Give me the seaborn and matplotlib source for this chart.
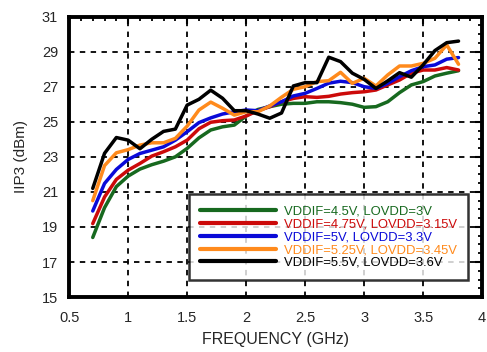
import numpy as np
import pandas as pd
import matplotlib
matplotlib.use("Agg")
import matplotlib.pyplot as plt
from matplotlib.ticker import MultipleLocator, FixedLocator
import seaborn as sns

# frequency points (GHz)
freq = [0.7, 0.8, 0.9, 1.0, 1.1, 1.2, 1.3, 1.4, 1.5, 1.6, 1.7, 1.8, 1.9, 2.0, 2.1, 2.2,
        2.3, 2.4, 2.5, 2.6, 2.7, 2.8, 2.9, 3.0, 3.1, 3.2, 3.3, 3.4, 3.5, 3.6, 3.7, 3.8]

iip3_45 = [18.4, 20.1, 21.3, 21.9, 22.3, 22.55, 22.75, 23.0, 23.48, 24.08, 24.53, 24.71,
           24.81, 25.33, 25.7, 25.86, 26.0, 26.05, 26.05, 26.14, 26.14, 26.09, 26.0, 25.82,
           25.86, 26.14, 26.66, 27.1, 27.29, 27.61, 27.77, 27.91]
iip3_475 = [19.19, 20.71, 21.71, 22.24, 22.62, 23.04, 23.29, 23.57, 23.95, 24.6, 24.97,
            25.06, 25.1, 25.33, 25.63, 25.86, 26.14, 26.33, 26.43, 26.39, 26.45, 26.58,
            26.66, 26.71, 26.81, 27.1, 27.38, 27.77, 27.95, 27.95, 28.09, 27.95]
iip3_5 = [19.91, 21.48, 22.28, 22.85, 23.19, 23.38, 23.57, 23.95, 24.43, 24.95, 25.22,
          25.44, 25.57, 25.67, 25.63, 25.9, 26.14, 26.47, 26.62, 26.9, 27.2, 27.31,
          27.23, 27.0, 26.9, 27.19, 27.57, 27.91, 28.14, 28.24, 28.57, 28.66]
iip3_525 = [20.5, 22.5, 23.23, 23.41, 23.67, 23.8, 23.8, 24.05, 24.75, 25.67, 26.12,
            25.77, 25.38, 25.57, 25.57, 25.9, 26.4, 26.85, 27.0, 27.29, 27.34, 27.82,
            27.19, 27.48, 27.04, 27.67, 28.18, 28.18, 28.33, 28.62, 29.38, 28.28]
iip3_55 = [21.2, 23.2, 24.1, 23.95, 23.46, 24.0, 24.45, 24.58, 25.95, 26.28, 26.8, 26.34,
           25.63, 25.63, 25.44, 25.2, 25.5, 27.04, 27.23, 27.23, 28.68, 28.43, 27.77,
           27.42, 26.9, 27.33, 27.8, 27.54, 28.24, 29.06, 29.51, 29.6]

labels = ["VDDIF=4.5V, LOVDD=3V", "VDDIF=4.75V, LOVDD=3.15V", "VDDIF=5V, LOVDD=3.3V",
          "VDDIF=5.25V, LOVDD=3.45V", "VDDIF=5.5V, LOVDD=3.6V"]
colors = ["#17691f", "#cc0a0a", "#0a0ad8", "#ff8a1c", "#000000"]

df = pd.concat([
    pd.DataFrame({"freq": freq, "iip3": vals, "cond": lab})
    for vals, lab in zip([iip3_45, iip3_475, iip3_5, iip3_525, iip3_55], labels)
])

sns.set_style("white")
plt.rcParams["font.family"] = ["Liberation Sans", "DejaVu Sans"]

fig = plt.figure(figsize=(4.87, 3.52), dpi=100)
ax = fig.add_axes([0.142, 0.156, 0.848, 0.797])

sns.lineplot(data=df, x="freq", y="iip3", hue="cond", hue_order=labels,
             palette=colors, linewidth=2.5, ax=ax)

ax.set_xlim(0.5, 4)
ax.set_ylim(15, 31)
ax.xaxis.set_major_locator(MultipleLocator(0.5))
ax.xaxis.set_minor_locator(MultipleLocator(0.1))
ax.yaxis.set_major_locator(FixedLocator(np.arange(15, 32, 2)))
ax.yaxis.set_minor_locator(MultipleLocator(0.5))
ax.set_xticklabels([f"{t:g}" for t in ax.get_xticks()])
ax.grid(True, which="major", color="black", linestyle=(0, (3, 3)), linewidth=1.3)
ax.tick_params(which="both", direction="in", top=True, right=True, color="black",
               labelsize=10.5)
ax.tick_params(axis="x", pad=10)
ax.tick_params(axis="y", pad=8)
ax.tick_params(which="major", length=5, width=1.5)
ax.tick_params(which="minor", length=3, width=1.3)
for sp in ax.spines.values():
    sp.set_visible(True)
    sp.set_color("black")
    sp.set_linewidth(2.8)

ax.set_xlabel("FREQUENCY (GHz)", fontsize=11.5, labelpad=5)
ax.set_ylabel("IIP3 (dBm)", fontsize=11, labelpad=10)

leg = ax.legend(loc="lower right", bbox_to_anchor=(0.966, 0.061), fontsize=9.4,
                handlelength=5.8, labelspacing=0.05, frameon=True, fancybox=False,
                borderpad=0.85, handletextpad=0.6, borderaxespad=0)
leg.get_frame().set_edgecolor("black")
leg.get_frame().set_linewidth(1.8)
for txt, c in zip(leg.get_texts(), colors):
    txt.set_color(c)
for ln in leg.get_lines():
    ln.set_linewidth(3)

fig.savefig("out.png", dpi=100)
